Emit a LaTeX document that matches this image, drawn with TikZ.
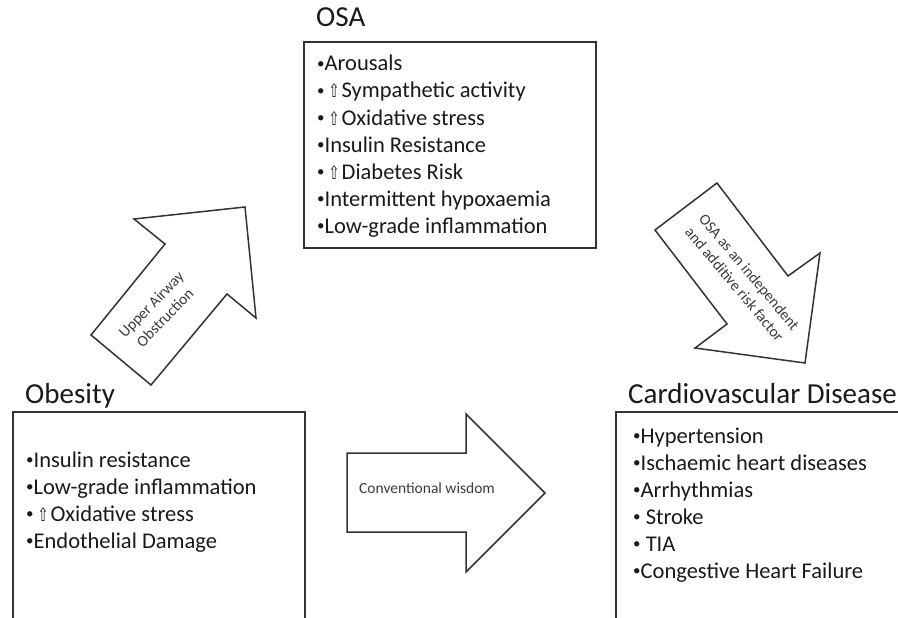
\documentclass[tikz,border=0pt]{standalone}
\usepackage{fontspec}
\setmainfont{Carlito}
\newfontfamily\djv{DejaVu Sans}
\definecolor{linec}{HTML}{333333}
\definecolor{textc}{HTML}{1A1A1A}
\newcommand{\bul}{{\fontsize{15}{15}\selectfont\raisebox{2.5pt}{•}}}
\newcommand{\uparr}{\kern4pt\resizebox{11pt}{14pt}{\djv ⇧}\kern2pt}
\begin{document}
\begin{tikzpicture}[x=1pt,y=-1pt,
  boxline/.style={draw=linec,line width=1.6pt},
  bigarrow/.style={draw=linec,line width=1.5pt,line join=miter,fill=white},
  itemtext/.style={text=textc,inner sep=0pt,anchor=base west,font=\fontsize{22.5}{26}\selectfont},
  titletext/.style={text=textc,inner sep=0pt,anchor=base west,font=\fontsize{29}{32}\selectfont},
  arrowlabel/.style={text=textc!85,inner sep=0pt,align=center,font=\fontsize{15.5}{19}\selectfont}]
\useasboundingbox (0,0) rectangle (898,618);
\clip (0,0) rectangle (898,618);
\fill[white] (0,0) rectangle (898,618);

% boxes
\draw[boxline] (304,42) rectangle (596,248);
\draw[boxline] (13,412) rectangle (305,640);
\draw[boxline] (616,412) rectangle (920,640);

% titles
\node[titletext] (osat) at (316,27) {OSA};
\node[titletext] (obt) at (25,403) {Obesity};
\node[titletext] (cvdt) at (628,403) {Cardiovascular Disease};

% OSA items
\node[itemtext] (o1) at (317,71) {\bul Arousals};
\node[itemtext] (o2) at (317,98) {\bul\uparr Sympathetic activity};
\node[itemtext] (o3) at (317,125) {\bul\uparr Oxidative stress};
\node[itemtext] (o4) at (317,152) {\bul Insulin Resistance};
\node[itemtext] (o5) at (317,179) {\bul\uparr Diabetes Risk};
\node[itemtext] (o6) at (317,206) {\bul Intermittent hypoxaemia};
\node[itemtext] (o7) at (317,233) {\bul Low-grade inflammation};

% Obesity items
\node[itemtext] (b1) at (26,467) {\bul Insulin resistance};
\node[itemtext] (b2) at (26,494) {\bul Low-grade inflammation};
\node[itemtext] (b3) at (26,521) {\bul\uparr Oxidative stress};
\node[itemtext] (b4) at (26,548) {\bul Endothelial Damage};

% CVD items
\node[itemtext] (c1) at (633,443) {\bul Hypertension};
\node[itemtext] (c2) at (633,470) {\bul Ischaemic heart diseases};
\node[itemtext] (c3) at (633,497) {\bul Arrhythmias};
\node[itemtext] (c4) at (633,524) {\bul\ Stroke};
\node[itemtext] (c5) at (633,551) {\bul\ TIA};
\node[itemtext] (c6) at (633,578) {\bul Congestive Heart Failure};

% Upper airway arrow
\draw[bigarrow] (91,335) -- (165,244) -- (134,219) -- (245,207) -- (256,318) -- (227,294) -- (151,385) -- cycle;
\node[arrowlabel,rotate=46] (uao) at (158,311) {Upper Airway\\Obstruction};

% OSA independent arrow
\draw[bigarrow] (717,183) -- (788,276) -- (820,253) -- (805,363) -- (695,348) -- (727,324) -- (655,230) -- cycle;
\node[arrowlabel,rotate=-50] (indep) at (742,278) {OSA as an independent\\and additive risk factor};

% Conventional wisdom arrow
\draw[bigarrow] (347,453) -- (466,453) -- (466,414) -- (545,493) -- (466,572) -- (466,532) -- (347,532) -- cycle;
\node[arrowlabel,anchor=west] (conv) at (359,488) {Conventional wisdom};
\end{tikzpicture}
\end{document}
